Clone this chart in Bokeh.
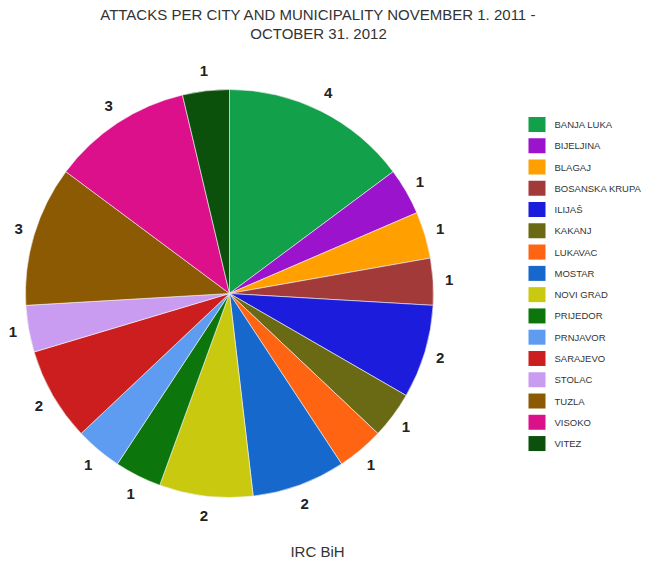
import numpy as np
from bokeh.plotting import figure
from bokeh.models import Range1d, ColumnDataSource
from bokeh.core.properties import value
from bokeh.embed import file_html
from bokeh.resources import INLINE

cities = ["BANJA LUKA", "BIJELJINA", "BLAGAJ", "BOSANSKA KRUPA", "ILIJAŠ", "KAKANJ",
          "LUKAVAC", "MOSTAR", "NOVI GRAD", "PRIJEDOR", "PRNJAVOR", "SARAJEVO",
          "STOLAC", "TUZLA", "VISOKO", "VITEZ"]
attacks = [4, 1, 1, 1, 2, 1, 1, 2, 2, 1, 1, 2, 1, 3, 3, 1]
colors = ["#12a04a", "#9b13cc", "#ff9f00", "#a23a3a", "#1c1cdc", "#6a6a14",
          "#ff6412", "#1668cc", "#c9c90f", "#0c760c", "#5e9cf2", "#cc1e1e",
          "#c99cf2", "#8c5a02", "#dd108c", "#0b500b"]

title_lines = ["ATTACKS PER CITY AND MUNICIPALITY NOVEMBER 1. 2011 -", "OCTOBER 31. 2012"]
footer = "IRC BiH"

W, H = 648, 562
p = figure(width=W, height=H, output_backend="svg", toolbar_location=None,
           x_range=Range1d(0, W), y_range=Range1d(0, H), min_border=0)
p.axis.visible = False
p.grid.visible = False
p.outline_line_color = None
p.background_fill_color = "white"
p.border_fill_color = "white"

cx, cy, r = 229, H - 293, 204
vals = np.array(attacks, dtype=float)
frac = vals / vals.sum()
cum = np.concatenate([[0], np.cumsum(frac)])
# clockwise from 12 o'clock
start = np.pi / 2 - cum[1:] * 2 * np.pi
end = np.pi / 2 - cum[:-1] * 2 * np.pi
mid = (start + end) / 2

src = ColumnDataSource(dict(start=start, end=end, color=colors))
p.wedge(x=cx, y=cy, radius=r, start_angle="start", end_angle="end",
        fill_color="color", line_color="#f4f4f4", line_width=0.6, source=src)

lrx, lry = 220, 224
lab = ColumnDataSource(dict(x=cx + lrx * np.cos(mid), y=cy + lry * np.sin(mid),
                            t=[str(v) for v in attacks]))
p.text(x="x", y="y", text="t", source=lab, text_font=value("Liberation Sans"),
       text_font_size="15px", text_font_style="bold", text_color="#222222",
       text_align="center", text_baseline="middle")

# legend
n = len(cities)
ly0, dy = H - 124, 21.27
ly = ly0 - np.arange(n) * dy
leg = ColumnDataSource(dict(y=ly, color=colors, name=cities))
p.rect(x=536.5, y="y", width=17, height=15, fill_color="color", line_color=None, source=leg)
p.text(x=554, y="y", text="name", source=leg, text_font=value("Liberation Sans"),
       text_font_size="9.5px", text_color="#333333", text_baseline="middle")

# title and footer
p.text(x=[318, 318], y=[H - 14, H - 33], text=title_lines, text_font=value("Liberation Sans"),
       text_font_size="15px", text_color="#333333", text_align="center", text_baseline="middle")
p.text(x=[317], y=[H - 551], text=[footer], text_font=value("Liberation Sans"),
       text_font_size="15px", text_color="#333333", text_align="center", text_baseline="middle")

open("out.html", "w").write(file_html(p, INLINE))
